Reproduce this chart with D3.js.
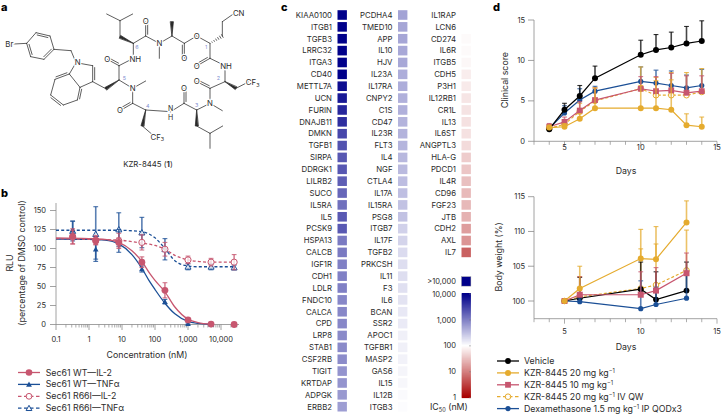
<!DOCTYPE html>
<html><head><meta charset="utf-8">
<script src="https://cdn.jsdelivr.net/npm/d3@7/dist/d3.min.js"></script>
<style>
html,body{margin:0;padding:0;background:#fff}
svg{display:block}
text{font-family:Inter,"Liberation Sans",sans-serif;fill:#2b2b2b}
</style></head><body><svg id="c" width="721" height="414"></svg>
<script>
// ---------- panel b data ----------
const concB=[0.32,1.6,8,40,200,1000,5000,25000];
const wtIL2=[116,110,108,82,45,6,0.5,0];
const wtIL2Err=[10,5,6,7,10,2,0.5,0];
const wtTNF=[124,99,110,73,30,1,0,0];
const wtTNFErr=[12,13,15,4,3,1,0,0];
const mutIL2=[115,111,110,108,99,85,82,82];
const mutIL2Err=[9,6,10,10,9,5,5,10];
const mutTNF=[123,119,125,121,99,76,76,75];
const mutTNFErr=[13,36,22,20,14,4,4,3];
const curveConc=[0.1,1,3,8,20,40,70,100,200,400,1000,2000,5000];
const fitWtIL2=[114,113,112,108,97,83,67,58,43,23,7,2.5,0.5];
const fitWtTNF=[112.5,112,111,106,92,74,56,46,28,14,4,1.5,0.3];
const dashConc=[0.1,1,8,40,100,200,400,1000,2000,5000,25000];
const fitMutIL2=[113,112,111,107,104,99,91,85,83,82,82];
const fitMutTNF=[124,124,124,122,114,100,84,77,76,76,76];
const legendB=["Sec61 WT—IL-2","Sec61 WT—TNFα","Sec61 R66I—IL-2","Sec61 R66I—TNFα"];
const ticksBx=[0.1,1,10,100,1000,10000];
const ticksBxLabels=["0.1","1","10","100","1,000","10,000"];
const ticksBy=[0,25,50,75,100,125,150];

// ---------- panel c data ----------
const genes1=["KIAA0100","ITGB1","TGFB3","LRRC32","ITGA3","CD40","METTL7A","UCN","FURIN","DNAJB11","DMKN","TGFB1","SIRPA","DDRGK1","LILRB2","SUCO","IL5RA","IL5","PCSK9","HSPA13","CALCB","IGF1R","CDH1","LDLR","FNDC10","CALCA","CPD","LRP8","STAB1","CSF2RB","TIGIT","KRTDAP","ADPGK","ERBB2"];
const ic1=[10000,10000,10000,10000,10000,10000,7943,6310,5012,4365,2754,2291,2089,2089,1820,1585,1318,1995,1995,1096,1096,1000,1000,1000,871,871,871,832,832,794,692,692,631,575];
const genes2=["PCDHA4","TMED10","APP","IL10","HJV","IL23A","IL17RA","CNPY2","C1S","CD47","IL23R","FLT3","IL4","NGF","CTLA4","IL17A","IL15RA","PSG8","ITGB7","IL17F","TGFB2","PRKCSH","IL11","F3","IL6","BCAN","SSR2","APOC1","TGFBR1","MASP2","GAS6","IL15","IL12B","ITGB3"];
const ic2=[525,500,500,480,480,437,437,417,417,398,398,380,363,347,331,316,302,302,229,219,191,182,182,174,166,151,145,132,132,126,120,115,110,105];
const genes3=["IL1RAP","LCN6","CD274","IL6R","ITGB5","CDH5","P3H1","IL12RB1","CR1L","IL13","IL6ST","ANGPTL3","HLA-G","PDCD1","IL4R","CD96","FGF23","JTB","CDH2","AXL","IL7"];
const ic3=[100,100,91,91,87,72,69,63,60,58,58,52,40,36,32,29,28,25,17,14.5,5.8];
const cbTicks=[10000,1000,100,10,1];
const cbLabels=["10,000","1,000","100","10","1"];

// ---------- panel d data ----------
const daysTop=[4,5,6,7,10,11,12,13,14];
const csVeh=[1.5,3.9,5.6,7.8,10.7,11.3,11.6,12.1,12.4];
const csVehErr=[0.2,0.8,1.3,1.5,1.8,1.9,1.9,2.1,2.5];
const cs20=[1.7,1.8,2.8,4.1,4.1,4.1,3.9,2.0,1.8];
const cs20Err=[0.3,0.4,0.6,2.5,2.8,3.4,3.7,1.4,1.2];
const cs10=[1.8,2.4,3.8,5.1,6.5,6.2,6.3,6.0,6.2];
const cs10Err=[0.4,0.6,1.1,1.5,1.5,1.8,2.1,2.1,1.9];
const csIV=[1.6,2.1,3.7,5.0,6.5,5.7,5.7,5.7,6.1];
const csIVErr=[0.3,0.5,1.0,1.6,2.7,2.2,2.8,2.8,2.9];
const csDex=[1.6,3.5,5.1,6.2,7.4,7.2,6.9,6.6,6.9];
const csDexErr=[0.2,0.9,1.4,0.6,1.8,1.6,1.8,1.6,2.0];
const daysBot=[5,6,10,11,13];
const bwVeh=[100,100.4,101.7,100.2,101.5];
const bwVehErr=[0,3.0,3.9,4.0,4.1];
const bw20=[100,101.8,106.1,106,111.3];
const bw20Err=[0,3.2,4.2,4.7,3.1];
const bw10=[100,100.9,100.9,101.5,104];
const bw10Err=[0,2.6,3.3,3.3,2.9];
const bwIV=[100,100.6,101.8,102.3,104.4];
const bwIVErr=[0,2.9,5.7,5.9,5.8];
const bwDex=[100,99.9,98.9,99.5,100.4];
const bwDexErr=[0,0.5,4.0,2.5,3.6];
const ticksDx=[5,10,15];
const ticksCs=[0,5,10,15];
const ticksBw=[100,105,110,115];

// ---------- panel a: structure (atom name, x, y in drawing units) ----------
const atoms=[["br",42,132],["p1",80,130],["p2",108,98],["p3",150,108],["p4",162,148],["p5",132,178],["p6",92,170],
["bz",213,152],["Ni",228,188],["i2",278,197],["i3",278,245],["i3a",240,262],["i7a",208,222],["i7",165,238],["i6",152,285],["i5",190,315],["i4",232,300],
["tc",317,266],["a5",357,240],["c5",357,197],["o5",322,178],["n6",400,175],["a6",400,130],["l1",360,110],["l2",360,62],["l3",320,42],["l4",398,42],
["c6",437,108],["o6",437,65],["nm",478,130],["me",478,175],["al",516,108],["alm",516,65],["cal",553,130],["oal",553,175],["oe",590,108],
["a1",630,130],["s1",667,108],["s2",667,65],["s3",700,42],["c1",630,175],["o1",590,198],["n2",675,197],["a2",675,245],["t1",708,265],["t2",745,246],
["c2",630,265],["o2",590,245],["n3",630,310],["n3m",667,332],["a3",590,330],["b1",590,378],["b2",630,400],["b3",668,378],["b4",630,445],
["c3",552,310],["o3",552,265],["n4",512,335],["a4",437,330],["w1",427,378],["w2",462,408],["c4",398,310],["o4",360,332],["n5",398,265],["n5m",437,243]];
const singleBonds=[["br","p1"],["p1","p2"],["p3","p4"],["p5","p6"],["p4","bz"],["bz","Ni"],["Ni","i2"],["i3","i3a"],["i3a","i7a"],["i7a","Ni"],["i7","i6"],["i5","i4"],
["i3","tc"],["a5","c5"],["c5","n6"],["n6","a6"],["a6","c6"],["l1","l2"],["l2","l3"],["l2","l4"],["c6","nm"],["nm","me"],["nm","al"],["al","cal"],["cal","oe"],["oe","a1"],
["a1","c1"],["s1","s2"],["s2","s3"],["c1","n2"],["n2","a2"],["a2","c2"],["t1","t2"],["c2","n3"],["n3","n3m"],["n3","a3"],["a3","c3"],["b1","b2"],["b2","b3"],["b2","b4"],["c3","n4"],["n4","a4"],["a4","c4"],["w1","w2"],["c4","n5"],["n5","n5m"],["n5","a5"]];
const doubleBonds=[["p2","p3",1],["p4","p5",1],["p6","p1",1],["i2","i3",-1],["i7a","i7",1],["i6","i5",1],["i4","i3a",1],["c5","o5",1],["c6","o6",1],["cal","oal",1],["c1","o1",1],["c2","o2",1],["c3","o3",1],["c4","o4",1]];
const wedgeBonds=[["a5","tc"],["a6","l1"],["al","alm"],["a2","t1"],["a3","b1"],["a4","w1"]];
const hashBonds=[["a1","s1"]];
const atomLabels=[["Br",28,132],["N",233,188],["NH",406,177],["O",322,178],["O",437,65],["N",478,130],["O",553,175],["O",590,108],["CN",716,41],["O",590,198],["NH",678,198],["CF3",758,247],["O",590,245],["N",630,310],["O",552,265],["NH2L",512,326],["CF3",472,411],["O",360,332],["N",398,265]];
const ringNums=[["1",618,142],["2",655,235],["3",590,316],["4",443,318],["5",373,233],["6",411,140]];

const svg=d3.select("#c");
const grey="#8a8a8a";
const cPink="#c7566f",cBlue="#1b4f96",cYel="#e5ab2e",cBlk="#000";
const fsTitle=8.8,fsTick=7.5,fsGene=7.8;

// panel letters
[["a",1,11],["b",1,197],["c",281,11],["d",493,11]].forEach(d=>svg.append("text").attr("x",d[1]).attr("y",d[2]).attr("font-size",11).attr("font-weight",800).style("fill","#000").text(d[0]));

// ---- a ----
const sm=d3.scaleLinear().domain([0,3]).range([0,1]);
const A=new Map(atoms.map(a=>[a[0],[sm(a[1]),sm(a[2])]]));
const gA=svg.append("g").attr("stroke","#2a2a2a").attr("stroke-width",0.75).attr("fill","none").attr("stroke-linecap","round");
singleBonds.forEach(b=>{const p=A.get(b[0]),q=A.get(b[1]);gA.append("line").attr("x1",p[0]).attr("y1",p[1]).attr("x2",q[0]).attr("y2",q[1]);});
doubleBonds.forEach(b=>{const p=A.get(b[0]),q=A.get(b[1]);const dx=q[0]-p[0],dy=q[1]-p[1],l=Math.hypot(dx,dy),nx=-dy/l*2*b[2],ny=dx/l*2*b[2];
 gA.append("line").attr("x1",p[0]).attr("y1",p[1]).attr("x2",q[0]).attr("y2",q[1]);
 const s=0.12;gA.append("line").attr("x1",p[0]+nx+dx*s).attr("y1",p[1]+ny+dy*s).attr("x2",q[0]+nx-dx*s).attr("y2",q[1]+ny-dy*s);});
wedgeBonds.forEach(b=>{const p=A.get(b[0]),q=A.get(b[1]);const dx=q[0]-p[0],dy=q[1]-p[1],l=Math.hypot(dx,dy),nx=-dy/l*1.4,ny=dx/l*1.4;
 gA.append("path").attr("d",`M${p[0]},${p[1]}L${q[0]+nx},${q[1]+ny}L${q[0]-nx},${q[1]-ny}Z`).attr("fill","#2a2a2a");});
hashBonds.forEach(b=>{const p=A.get(b[0]),q=A.get(b[1]);const dx=q[0]-p[0],dy=q[1]-p[1],l=Math.hypot(dx,dy);
 d3.range(1,7).forEach(i=>{const t=i/6,w=t*1.6,mx=p[0]+dx*t,my=p[1]+dy*t,nx=-dy/l*w,ny=dx/l*w;gA.append("line").attr("x1",mx+nx).attr("y1",my+ny).attr("x2",mx-nx).attr("y2",my-ny);});});
atomLabels.forEach(l=>{
 if(l[0]==="NH2L"){
  [["N",0],["H",8.8]].forEach(p=>svg.append("text").attr("x",sm(l[1])).attr("y",sm(l[2])+2.8+p[1]).attr("text-anchor","middle").attr("font-size",7).attr("stroke","#fff").attr("stroke-width",2.2).attr("paint-order","stroke").text(p[0]));
  return;}
 const t=svg.append("text").attr("x",sm(l[1])).attr("y",sm(l[2])+2.8).attr("text-anchor","middle").attr("font-size",7.8).attr("stroke","#fff").attr("stroke-width",2.4).attr("paint-order","stroke");
 if(l[0]==="CF3"){t.append("tspan").text("CF");t.append("tspan").attr("dy",1.5).attr("font-size",5.4).text("3");}
 else t.text(l[0]);});
ringNums.forEach(l=>svg.append("text").attr("x",sm(l[1])).attr("y",sm(l[2])+2).attr("text-anchor","middle").attr("font-size",5.4).style("fill","#7f8fd0").text(l[0]));
const kz=svg.append("text").attr("x",148).attr("y",167).attr("text-anchor","middle").attr("font-size",7.8);
kz.append("tspan").text("KZR-8445 (");kz.append("tspan").attr("font-weight",700).text("1");kz.append("tspan").text(")");

// ---- b ----
const xB=d3.scaleLog().domain([0.1,10000]).range([56,221]);
const yB=d3.scaleLinear().domain([0,150]).range([324.5,210.5]);
const gB=svg.append("g");
function yAxis(g,scale,x,ticks,top,bottom,fs,lx){
 g.append("line").attr("x1",x).attr("x2",x).attr("y1",top).attr("y2",bottom).attr("stroke",grey).attr("stroke-width",0.8);
 ticks.forEach(t=>{g.append("line").attr("x1",x-6).attr("x2",x).attr("y1",scale(t)).attr("y2",scale(t)).attr("stroke",grey).attr("stroke-width",0.8);
  g.append("text").attr("x",lx).attr("y",scale(t)+2.6).attr("text-anchor","end").attr("font-size",fs).text(t);});
}
yAxis(gB,yB,56,ticksBy,203,324.5,fsTick,46);
gB.append("line").attr("x1",56).attr("x2",239).attr("y1",324.5).attr("y2",324.5).attr("stroke",grey).attr("stroke-width",0.8);
const minorB=[];[0.1,1,10,100,1000,10000].forEach(d=>[2,3,4,5,6,7,8,9].forEach(m=>{if(d*m<=30000)minorB.push(d*m);}));
minorB.forEach(v=>gB.append("line").attr("x1",xB(v)).attr("x2",xB(v)).attr("y1",324.5).attr("y2",327.5).attr("stroke",grey).attr("stroke-width",0.7));
ticksBx.forEach((v,i)=>{gB.append("line").attr("x1",xB(v)).attr("x2",xB(v)).attr("y1",324.5).attr("y2",330).attr("stroke",grey).attr("stroke-width",0.8);
 gB.append("text").attr("x",xB(v)).attr("y",341.5).attr("text-anchor","middle").attr("font-size",fsTick).text(ticksBxLabels[i]);});
gB.append("text").attr("x",147).attr("y",358).attr("text-anchor","middle").attr("font-size",fsTitle).text("Concentration (nM)");
gB.append("text").attr("transform","translate(12.5,263) rotate(-90)").attr("text-anchor","middle").attr("font-size",fsTitle).text("RLU");
gB.append("text").attr("transform","translate(25,263) rotate(-90)").attr("text-anchor","middle").attr("font-size",fsTitle).text("(percentage of DMSO control)");

function errs(g,xs,ys,es,x,y,color,both){
 xs.forEach((d,i)=>{if(!es[i])return;const px=x(d),a=y(ys[i]+es[i]),b=y(both?ys[i]-es[i]:ys[i]);
  g.append("line").attr("x1",px).attr("x2",px).attr("y1",a).attr("y2",b).attr("stroke",color).attr("stroke-width",1.6).attr("opacity",.72);
  g.append("line").attr("x1",px-2.4).attr("x2",px+2.4).attr("y1",a).attr("y2",a).attr("stroke",color).attr("stroke-width",1.1).attr("opacity",.8);
  if(both)g.append("line").attr("x1",px-2.4).attr("x2",px+2.4).attr("y1",b).attr("y2",b).attr("stroke",color).attr("stroke-width",1.1).attr("opacity",.8);
 });
}
function marker(g,kind,px,py,color,size){
 const s=size;
 if(kind==="circle")g.append("circle").attr("cx",px).attr("cy",py).attr("r",s).attr("fill",color);
 if(kind==="ocircle")g.append("circle").attr("cx",px).attr("cy",py).attr("r",s-0.4).attr("fill","#fff").attr("fill-opacity",.75).attr("stroke",color).attr("stroke-width",1);
 if(kind==="square")g.append("rect").attr("x",px-s).attr("y",py-s).attr("width",2*s).attr("height",2*s).attr("fill",color);
 if(kind==="tri")g.append("path").attr("d",`M${px},${py-s}L${px+s},${py+s*.8}L${px-s},${py+s*.8}Z`).attr("fill",color);
 if(kind==="otri")g.append("path").attr("d",`M${px},${py-s}L${px+s},${py+s*.8}L${px-s},${py+s*.8}Z`).attr("fill","#fff").attr("fill-opacity",.75).attr("stroke",color).attr("stroke-width",1);
}
const seriesB=[
 {cx:dashConc,cy:fitMutTNF,xs:concB,ys:mutTNF,es:mutTNFErr,c:cBlue,k:"otri",dash:"3 2.2",sz:3},
 {cx:curveConc,cy:fitWtTNF,xs:concB,ys:wtTNF,es:wtTNFErr,c:cBlue,k:"tri",dash:null,sz:2.8},
 {cx:dashConc,cy:fitMutIL2,xs:concB,ys:mutIL2,es:mutIL2Err,c:cPink,k:"ocircle",dash:"3 2.2",sz:3.5},
 {cx:curveConc,cy:fitWtIL2,xs:concB,ys:wtIL2,es:wtIL2Err,c:cPink,k:"circle",dash:null,sz:3.4}];
seriesB.forEach(s=>{
 const lineGen=d3.line().x(d=>xB(d[0])).y(d=>yB(d[1])).curve(d3.curveMonotoneX);
 errs(gB,s.xs,s.ys,s.es,xB,yB,s.c,true);
 gB.append("path").attr("d",lineGen(d3.zip(s.cx,s.cy))).attr("fill","none").attr("stroke",s.c).attr("stroke-width",1.3).attr("stroke-dasharray",s.dash);
 s.xs.forEach((d,i)=>marker(gB,s.k,xB(d),yB(s.ys[i]),s.c,s.sz));
});
const legB=[[cPink,"circle",null],[cBlue,"tri",null],[cPink,"ocircle","3.5 2.5"],[cBlue,"otri","3.5 2.5"]];
legendB.forEach((t,i)=>{const y=372.5+i*11.9;
 gB.append("line").attr("x1",18).attr("x2",40).attr("y1",y).attr("y2",y).attr("stroke",legB[i][0]).attr("stroke-width",1.3).attr("stroke-dasharray",legB[i][2]);
 marker(gB,legB[i][1],29,y,legB[i][0],legB[i][1].includes("tri")?2.9:3.3);
 gB.append("text").attr("x",45.7).attr("y",y+3).attr("font-size",fsTitle).text(t);});

// ---- c ----
const colorC=d3.scaleLog().domain([1,100,10000]).range(["#a80000","#ffffff","#00008a"]).clamp(true);
const rowY=d3.scaleLinear().domain([0,33]).range([15,406.7]);
const gC=svg.append("g");
[[genes1,ic1,332,337.5],[genes2,ic2,392.5,398],[genes3,ic3,456,461.5]].forEach(col=>{
 col[0].forEach((g,i)=>{
  gC.append("text").attr("x",col[2]).attr("y",rowY(i)+2.8).attr("text-anchor","end").attr("font-size",fsGene).text(g);
  gC.append("rect").attr("x",col[3]).attr("y",rowY(i)-4.8).attr("width",9.4).attr("height",9.6).attr("fill",colorC(col[1][i]));
 });
});
// colour bar
const yCb=d3.scaleLog().domain([1,10000]).range([397.7,294]);
gC.append("rect").attr("x",461.5).attr("y",276.7).attr("width",9.4).attr("height",9.4).attr("fill","#00008a").attr("stroke","#999").attr("stroke-width",0.4);
gC.append("text").attr("x",456).attr("y",284.4).attr("text-anchor","end").attr("font-size",fsTick).text(">10,000");
d3.range(0,105).forEach(i=>{const v=Math.pow(10,i/26);
 gC.append("rect").attr("x",461.7).attr("y",yCb(v)-1).attr("width",9.2).attr("height",1.4).attr("fill",colorC(v));});
cbTicks.forEach((v,i)=>{
 gC.append("line").attr("x1",469).attr("x2",471).attr("y1",yCb(v)).attr("y2",yCb(v)).attr("stroke","#777").attr("stroke-width",0.5);
 gC.append("text").attr("x",456).attr("y",yCb(v)+2.6).attr("text-anchor","end").attr("font-size",fsTick).text(cbLabels[i]);});
const ict=gC.append("text").attr("x",430).attr("y",410).attr("font-size",fsTitle);
ict.append("tspan").text("IC");ict.append("tspan").attr("dy",1.8).attr("font-size",5.6).text("50");ict.append("tspan").attr("dy",-1.8).text(" (nM)");

// ---- d ----
const xD=d3.scaleLinear().domain([3,15]).range([534,717]);
const yCs=d3.scaleLinear().domain([0,15]).range([141.3,20]);
const yBw=d3.scaleLinear().domain([100,115]).range([301,196.7]);
function xAxisD(g,y0,labelY,titleY){
 g.append("line").attr("x1",534).attr("x2",717).attr("y1",y0).attr("y2",y0).attr("stroke",grey).attr("stroke-width",0.8);
 d3.range(3,16).forEach(d=>{const major=ticksDx.includes(d);
  g.append("line").attr("x1",xD(d)).attr("x2",xD(d)).attr("y1",y0).attr("y2",y0+(major?5:3.5)).attr("stroke",grey).attr("stroke-width",0.7);});
 ticksDx.forEach(d=>g.append("text").attr("x",xD(d)).attr("y",labelY).attr("text-anchor","middle").attr("font-size",fsTick).text(d));
 g.append("text").attr("x",626).attr("y",titleY).attr("text-anchor","middle").attr("font-size",fsTitle).text("Days");
}
const gD=svg.append("g");
yAxis(gD,yCs,534,ticksCs,20,141.3,fsTick,525);
xAxisD(gD,141.3,149.5,173.5);
gD.append("text").attr("transform","translate(508,80) rotate(-90)").attr("text-anchor","middle").attr("font-size",fsTitle).text("Clinical score");
yAxis(gD,yBw,534,ticksBw,196.7,318.7,fsTick,525);
xAxisD(gD,318.7,334,349.5);
gD.append("text").attr("transform","translate(502,257) rotate(-90)").attr("text-anchor","middle").attr("font-size",fsTitle).text("Body weight (%)");

function drawD(days,rows,y){
 rows.forEach(r=>{
  errs(gD,days,r.v,r.e,xD,y,r.c,false);
  gD.append("path").attr("d",d3.line().x(d=>xD(d[0])).y(d=>y(d[1]))(d3.zip(days,r.v))).attr("fill","none").attr("stroke",r.c).attr("stroke-width",1.2).attr("stroke-dasharray",r.dash);
  days.forEach((d,i)=>marker(gD,r.k,xD(d),y(r.v[i]),r.c,r.s));
 });
}
drawD(daysTop,[
 {v:csDex,e:csDexErr,c:cBlue,k:"circle",s:2.6},
 {v:csIV,e:csIVErr,c:cYel,k:"ocircle",s:3.2,dash:"3 2"},
 {v:cs10,e:cs10Err,c:cPink,k:"square",s:2.9},
 {v:csVeh,e:csVehErr,c:cBlk,k:"circle",s:3},
 {v:cs20,e:cs20Err,c:cYel,k:"circle",s:3}],yCs);
drawD(daysBot,[
 {v:bwIV,e:bwIVErr,c:cYel,k:"ocircle",s:3.2,dash:"3 2"},
 {v:bwVeh,e:bwVehErr,c:cBlk,k:"circle",s:2.9},
 {v:bwDex,e:bwDexErr,c:cBlue,k:"circle",s:2.6},
 {v:bw10,e:bw10Err,c:cPink,k:"square",s:3},
 {v:bw20,e:bw20Err,c:cYel,k:"circle",s:3}],yBw);
const legD=[{c:cBlk,k:"circle",s:2.9,t:"Vehicle"},
 {c:cYel,k:"circle",s:3,t:"KZR-8445 20 mg kg",sup:"−1"},
 {c:cPink,k:"square",s:2.9,t:"KZR-8445 10 mg kg",sup:"−1"},
 {c:cYel,k:"ocircle",s:3.2,dash:"3.5 2.5",t:"KZR-8445 20 mg kg",sup:"−1",post:" IV QW"},
 {c:cBlue,k:"circle",s:2.6,t:"Dexamethasone 1.5 mg kg",sup:"−1",post:" IP QODx3"}];
legD.forEach((l,i)=>{const y=361+i*11.9;
 gD.append("line").attr("x1",497).attr("x2",519).attr("y1",y).attr("y2",y).attr("stroke",l.c).attr("stroke-width",1.3).attr("stroke-dasharray",l.dash||null);
 marker(gD,l.k,508,y,l.c,l.s);
 const t=gD.append("text").attr("x",524).attr("y",y+3).attr("font-size",fsTitle);
 t.append("tspan").text(l.t);
 if(l.sup){t.append("tspan").attr("dy",-2.8).attr("font-size",5.6).text(l.sup);
  if(l.post)t.append("tspan").attr("dy",2.8).text(l.post);}
});
</script></body></html>
